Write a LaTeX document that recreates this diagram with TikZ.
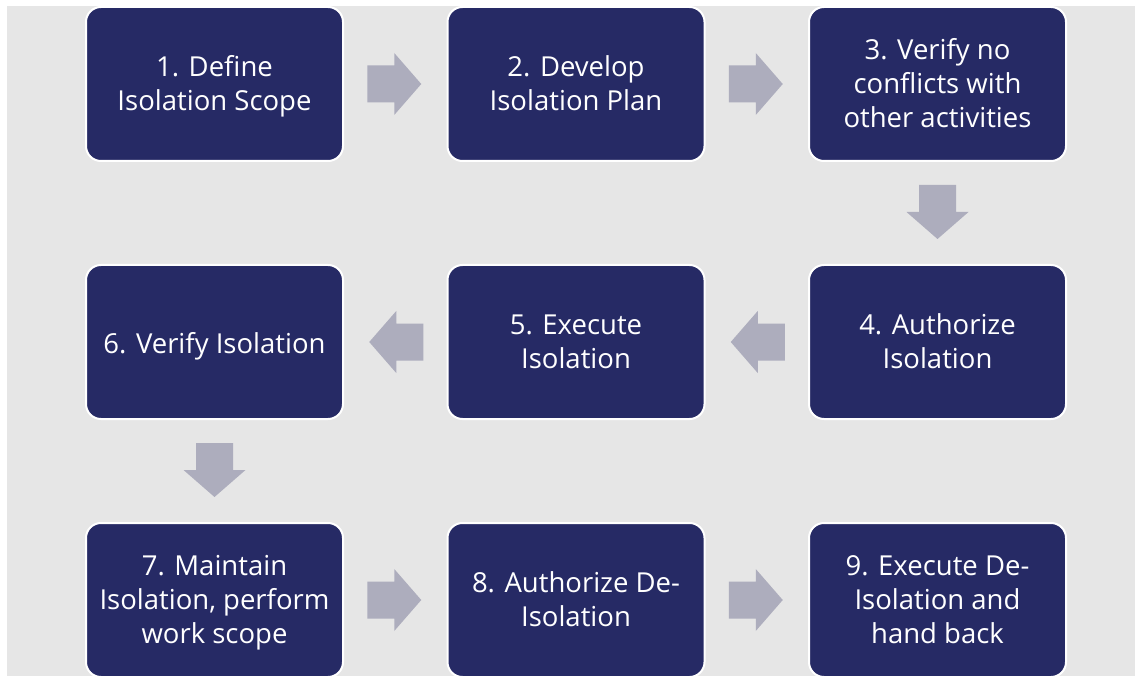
\documentclass[tikz,border=0pt]{standalone}
\usepackage{fontspec}
\setmainfont{Open Sans}
\usetikzlibrary{calc}
\definecolor{boxblue}{RGB}{38,42,101}
\definecolor{arrowgray}{RGB}{173,173,189}
\definecolor{bggray}{RGB}{230,230,230}
\tikzset{
  stepbox/.style={draw=white, line width=2pt, fill=boxblue, rounded corners=15pt,
    minimum width=257pt, minimum height=154pt, inner sep=0pt},
  steptext/.style={text=white, align=center, inner sep=0pt,
    font=\fontsize{27.5}{34}\selectfont,
    execute at begin node=\strut, execute at end node=\strut},
  blockarrow/.pic={\fill[arrowgray] (-28,-18.5) -- (-1,-18.5) -- (-1,-31) -- (26,0) -- (-1,31) -- (-1,18.5) -- (-28,18.5) -- cycle;}
}
\begin{document}
\begin{tikzpicture}[x=1pt,y=-1pt]
\useasboundingbox (0,0) rectangle (1135,676);
\fill[white] (0,0) rectangle (1135,676);
\fill[bggray] (7,6) rectangle (1135,676);
\begin{scope}
\clip (0,0) rectangle (1135,676);
\node[stepbox] (s1) at (214.5,84) {};
\node[stepbox] (s2) at (576,84) {};
\node[stepbox] (s3) at (937.5,84) {};
\node[stepbox] (s4) at (937.5,342) {};
\node[stepbox] (s5) at (576,342) {};
\node[stepbox] (s6) at (214.5,342) {};
\node[stepbox] (s7) at (214.5,600) {};
\node[stepbox] (s8) at (576,600) {};
\node[stepbox] (s9) at (937.5,600) {};
\end{scope}
\node[steptext] (t1) at ([yshift=-4.5pt]s1.center) {1. Define\\Isolation Scope};
\node[steptext] (t2) at ([yshift=-4.5pt]s2.center) {2. Develop\\Isolation Plan};
\node[steptext] (t3) at ([yshift=-4.5pt]s3.center) {3. Verify no\\conflicts with\\other activities};
\node[steptext] (t4) at ([yshift=-4.5pt]s4.center) {4. Authorize\\Isolation};
\node[steptext] (t5) at ([yshift=-4.5pt]s5.center) {5. Execute\\Isolation};
\node[steptext] (t6) at ([yshift=-4.5pt]s6.center) {6. Verify Isolation};
\node[steptext] (t7) at ([yshift=-4.5pt]s7.center) {7. Maintain\\Isolation, perform\\work scope};
\node[steptext] (t8) at ([yshift=-4.5pt]s8.center) {8. Authorize De-\\Isolation};
\node[steptext] (t9) at ([yshift=-4.5pt]s9.center) {9. Execute De-\\Isolation and\\hand back};
\path ($(s1.east)!0.5!(s2.west)$) pic {blockarrow};
\path ($(s2.east)!0.5!(s3.west)$) pic {blockarrow};
\path ($(s3.south)!0.5!(s4.north)$) pic[rotate=-90] {blockarrow};
\path ($(s4.west)!0.5!(s5.east)$) pic[rotate=180] {blockarrow};
\path ($(s5.west)!0.5!(s6.east)$) pic[rotate=180] {blockarrow};
\path ($(s6.south)!0.5!(s7.north)$) pic[rotate=-90] {blockarrow};
\path ($(s7.east)!0.5!(s8.west)$) pic {blockarrow};
\path ($(s8.east)!0.5!(s9.west)$) pic {blockarrow};
\end{tikzpicture}
\end{document}
